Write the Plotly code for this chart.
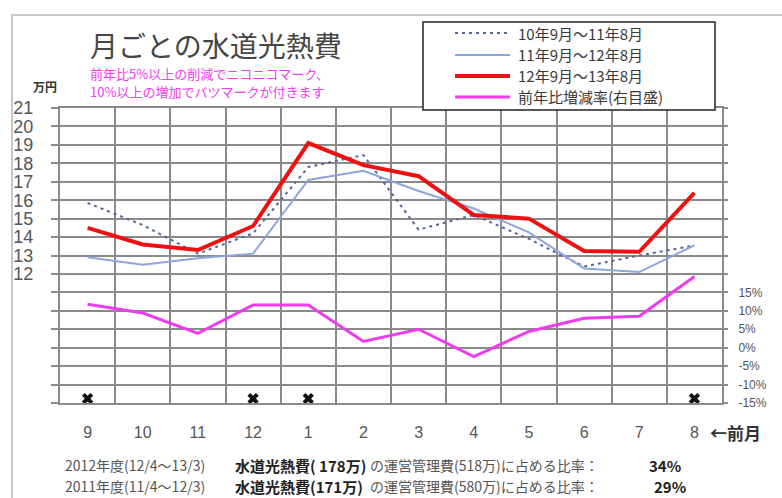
import plotly.graph_objects as go

# Monthly utility costs (万円), September through August
months = ["9", "10", "11", "12", "1", "2", "3", "4", "5", "6", "7", "8"]
fy2010 = [15.85, 14.65, 13.1, 14.2, 17.8, 18.45, 14.4, 15.2, 13.9, 12.4, 13.0, 13.55]
fy2011 = [12.9, 12.5, 12.85, 13.1, 17.1, 17.6, 16.5, 15.55, 14.25, 12.3, 12.1, 13.55]
fy2012 = [14.5, 13.6, 13.3, 14.6, 19.1, 17.9, 17.3, 15.2, 15.0, 13.25, 13.2, 16.4]
# Year-over-year change (%), right axis
yoy_change = [11.8, 9.4, 3.9, 11.6, 11.6, 1.7, 5.0, -2.4, 4.4, 8.0, 8.5, 19.3]

legend_names = ["10年9月～11年8月", "11年9月～12年8月", "12年9月～13年8月", "前年比増減率(右目盛)"]

left_ticks = list(range(5, 22))
left_labels = [str(v) if v >= 12 else "" for v in left_ticks]
right_ticks = list(range(-15, 70, 5))
right_labels = [f"{v}%" if v <= 15 else "" for v in right_ticks]

# months with a rise of 10% or more get a cross mark
cross_months = [m for m, c in zip(months, yoy_change) if c >= 10]
cross_level = [-13.8] * len(cross_months)

# summary lines under the chart
summary_period = ["2012年度(12/4～13/3)", "2011年度(11/4～12/3)"]
summary_cost = ["水道光熱費( 178万)", "水道光熱費(171万)"]
summary_admin = ["の運営管理費(518万)に占める比率：", "の運営管理費(580万)に占める比率："]
summary_ratio = ["34%", "29%"]

JP = "Noto Sans CJK JP"
GRID = "#8a8a8a"

styles = [
    dict(color="#56669a", width=2, dash="3px,4px"),
    dict(color="#8ea4dc", width=2),
    dict(color="#ee1111", width=4),
    dict(color="#ee3bee", width=3),
]

fig = go.Figure()
fig.add_trace(go.Scatter(x=months, y=fy2010, name=legend_names[0], mode="lines", line=styles[0]))
fig.add_trace(go.Scatter(x=months, y=fy2011, name=legend_names[1], mode="lines", line=styles[1]))
fig.add_trace(go.Scatter(x=months, y=fy2012, name=legend_names[2], mode="lines", line=styles[2]))
fig.add_trace(go.Scatter(x=months, y=yoy_change, name=legend_names[3], mode="lines",
                         yaxis="y2", line=styles[3]))
fig.add_trace(go.Scatter(x=cross_months, y=cross_level, mode="markers", yaxis="y2",
                         hoverinfo="skip",
                         marker=dict(symbol="x", size=10, color="#111111")))

L, R, T, B = 60, 60, 108, 95
PW, PH = 782 - L - R, 498 - T - B


def px(x):
    return (x - L) / PW


def py(y):
    return (498 - B - y) / PH


ann = []
shapes = [dict(type="rect", x0=px(12), y0=py(510), x1=px(800), y1=py(15),
               line=dict(color="#c8c8c8", width=2), layer="below")]

ann.append(dict(x=px(88), y=py(45), text="月ごとの水道光熱費", xanchor="left", yanchor="middle",
                font=dict(family=JP, size=28, color="#454545")))
ann.append(dict(x=px(88), y=py(73), text="前年比5%以上の削減でニコニコマーク、", xanchor="left",
                yanchor="middle", font=dict(family=JP, size=13, color="#f03cf0")))
ann.append(dict(x=px(88), y=py(92), text="10%以上の増加でバツマークが付きます", xanchor="left",
                yanchor="middle", font=dict(family=JP, size=13, color="#f03cf0")))
ann.append(dict(x=px(45), y=py(86), text="<b>万円</b>", xanchor="center", yanchor="middle",
                font=dict(family=JP, size=12, color="#333333")))
ann.append(dict(x=px(708), y=py(432), text="<b>←前月</b>", xanchor="left", yanchor="middle",
                font=dict(family=JP, size=17, color="#333333")))

# legend box with its line samples and labels
shapes.append(dict(type="rect", x0=px(423), y0=py(110), x1=px(715), y1=py(22),
                   line=dict(color="#222222", width=1.5), fillcolor="white", layer="above"))
for i, yy in enumerate([33, 55, 76, 97]):
    shapes.append(dict(type="line", x0=px(455), x1=px(510), y0=py(yy), y1=py(yy),
                       line=styles[i], layer="above"))
    ann.append(dict(x=px(516), y=py(yy), text=legend_names[i], xanchor="left", yanchor="middle",
                    font=dict(family=JP, size=15, color="#3a3a3a")))

for i, yy in enumerate([465, 486]):
    ann.append(dict(x=px(63), y=py(yy), text=summary_period[i], xanchor="left", yanchor="middle",
                    font=dict(family=JP, size=14, color="#555555")))
    ann.append(dict(x=px(233), y=py(yy), text=f"<b>{summary_cost[i]}</b>", xanchor="left",
                    yanchor="middle", font=dict(family=JP, size=15, color="#222222")))
    ann.append(dict(x=px(368), y=py(yy), text=summary_admin[i], xanchor="left", yanchor="middle",
                    font=dict(family=JP, size=14, color="#555555")))
    ann.append(dict(x=px(647 + 5 * i), y=py(yy), text=f"<b>{summary_ratio[i]}</b>", xanchor="left",
                    yanchor="middle", font=dict(family=JP, size=15, color="#222222")))
for a in ann:
    a.update(xref="paper", yref="paper", showarrow=False)
for s in shapes:
    s.update(xref="paper", yref="paper")

fig.update_layout(
    width=782, height=498,
    margin=dict(l=L, r=R, t=T, b=B),
    paper_bgcolor="white", plot_bgcolor="white",
    annotations=ann,
    shapes=shapes,
    showlegend=False,
    xaxis=dict(type="category", tickson="boundaries", showgrid=True, gridcolor=GRID, gridwidth=2,
               showline=True, linecolor=GRID, linewidth=2, mirror=True, ticks="",
               tickfont=dict(family="Liberation Sans", size=16, color="#555555"),
               ticklabelstandoff=14, range=[-0.5, 11.5]),
    yaxis=dict(range=[5, 21], tickvals=left_ticks, ticktext=left_labels, showgrid=True,
               gridcolor=GRID, gridwidth=2, showline=True, linecolor=GRID, linewidth=2,
               mirror=True, ticks="outside", ticklen=7, tickcolor=GRID, tickwidth=2,
               tickfont=dict(family="Liberation Sans", size=18, color="#555555"),
               ticklabelstandoff=14, zeroline=False),
    yaxis2=dict(range=[-15, 65], tickvals=right_ticks, ticktext=right_labels, overlaying="y",
                side="right", showgrid=False, zeroline=False, ticks="outside", ticklen=5,
                tickcolor=GRID, tickwidth=2,
                tickfont=dict(family="Liberation Sans", size=12, color="#555555"),
                ticklabelstandoff=8),
)

fig.write_html("out.html")
